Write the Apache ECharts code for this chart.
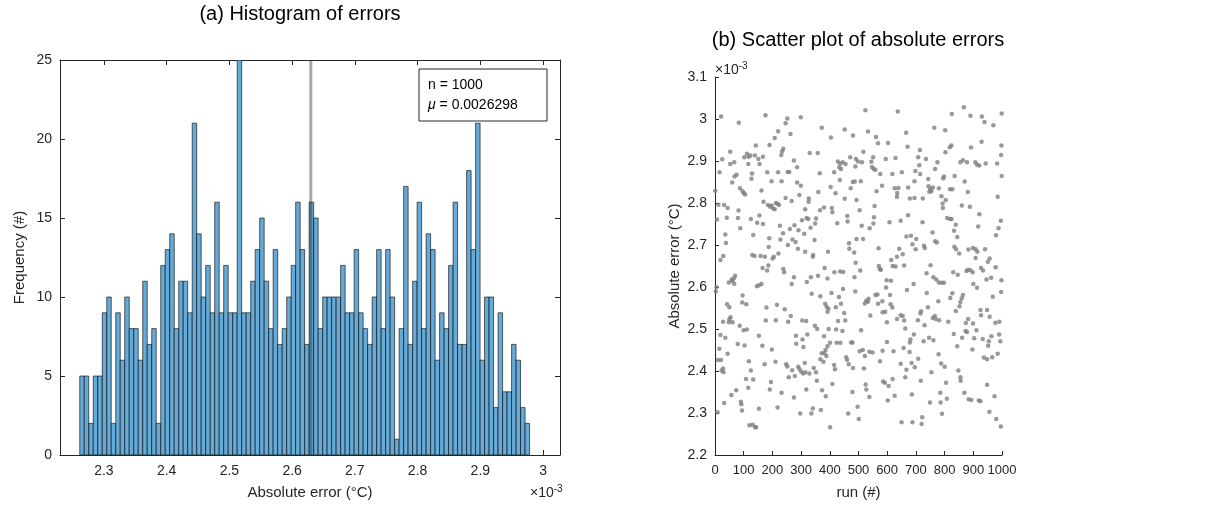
<!DOCTYPE html>
<html><head><meta charset="utf-8">
<script src="https://cdn.jsdelivr.net/npm/echarts@6/dist/echarts.min.js"></script>
<style>html,body{margin:0;padding:0;background:#fff}#c{width:1222px;height:507px}</style>
</head><body><div id="c"></div>
<script>
// ---------- data (errors in units of 1e-3 °C) ----------
const histCounts = [5,5,2,5,5,9,10,2,9,6,10,8,8,6,11,7,8,2,12,13,14,8,11,11,9,
 21,14,10,12,9,16,9,12,9,9,25,9,9,11,13,15,11,8,13,7,8,10,12,16,13,7,
 16,15,8,10,10,10,10,12,9,9,13,9,8,7,10,13,8,13,10,1,8,17,7,11,16,8,14,13,6,
 9,8,12,16,7,7,18,13,21,6,10,10,3,9,4,4,7,6,3,2];
const binLo = 2.2615, binHi = 2.9785;
const histXTicks = [2.3,2.4,2.5,2.6,2.7,2.8,2.9,3.0];
const meanErr = 2.6298;
const sampleCount = 1000;
const errTicks = [2.2,2.3,2.4,2.5,2.6,2.7,2.8,2.9,3.0,3.1];
const runTicks = [0,100,200,300,400,500,600,700,800,900,1000];
const scatterPts = [
[21,3.006],[83,2.991],[53,2.922],[25,2.904],[67,2.897],[53,2.893],[102,2.909],[111,2.917],[117,2.910],[123,2.913],[139,2.913],[116,2.893],[16,2.873],[75,2.867],[68,2.863],[60,2.849],[129,2.870],[127,2.858],[1,2.829],[87,2.835],[96,2.828],[101,2.823],[105,2.820],[12,2.796],[32,2.795],[44,2.788],[82,2.782],[7,2.761],[41,2.765],[80,2.764],[88,2.740],[125,2.762],[36,2.725],[133,2.724],[38,2.705],[29,2.674],[19,2.664],[130,2.676],[138,2.674],[70,2.627],[66,2.621],[58,2.618],[61,2.614],[48,2.611],[67,2.608],[5,2.600],[3,2.589],[96,2.580],[95,2.563],[109,2.559],[42,2.559],[50,2.552],[54,2.528],[50,2.523],[28,2.517],[48,2.516],[61,2.516],[86,2.508],[100,2.497],[111,2.499],[19,2.486],[36,2.479],[79,2.464],[103,2.461],[15,2.453],[44,2.441],[9,2.426],[21,2.426],[28,2.406],[23,2.401],[30,2.397],[118,2.423],[125,2.401],[108,2.381],[133,2.380],[116,2.360],[74,2.354],[57,2.343],[32,2.324],[90,2.327],[92,2.321],[94,2.306],[9,2.302],[120,2.271],[131,2.272],[140,2.266],
[176,3.009],[252,3.001],[246,2.990],[299,3.004],[220,2.971],[208,2.955],[190,2.938],[263,2.964],[238,2.929],[234,2.923],[231,2.914],[142,2.937],[151,2.905],[155,2.893],[167,2.910],[275,2.901],[286,2.885],[182,2.873],[220,2.873],[197,2.852],[232,2.852],[253,2.874],[259,2.874],[286,2.849],[299,2.841],[162,2.830],[294,2.819],[169,2.803],[184,2.795],[192,2.791],[197,2.794],[203,2.787],[208,2.785],[212,2.800],[218,2.798],[223,2.795],[246,2.812],[267,2.805],[155,2.770],[147,2.753],[167,2.750],[226,2.746],[303,2.759],[277,2.747],[261,2.738],[291,2.735],[189,2.716],[237,2.728],[228,2.713],[270,2.713],[281,2.707],[289,2.691],[254,2.700],[187,2.695],[159,2.674],[174,2.672],[201,2.668],[205,2.672],[221,2.680],[186,2.651],[166,2.645],[182,2.639],[238,2.643],[241,2.635],[275,2.623],[267,2.607],[162,2.607],[153,2.604],[146,2.602],[179,2.551],[216,2.558],[243,2.547],[177,2.520],[212,2.521],[264,2.531],[255,2.517],[304,2.520],[153,2.484],[165,2.460],[282,2.484],[283,2.465],[305,2.475],[198,2.451],[173,2.416],[211,2.422],[248,2.416],[252,2.411],[257,2.385],[269,2.402],[278,2.388],[290,2.410],[294,2.405],[300,2.399],[307,2.394],[195,2.374],[191,2.356],[232,2.348],[275,2.337],[153,2.310],[218,2.313],[297,2.299],[143,2.266],
[372,2.979],[404,2.956],[452,2.975],[330,2.919],[358,2.919],[365,2.871],[428,2.899],[436,2.894],[445,2.897],[455,2.893],[433,2.885],[439,2.881],[471,2.909],[415,2.873],[403,2.838],[420,2.823],[435,2.855],[473,2.835],[360,2.826],[327,2.811],[326,2.803],[452,2.810],[380,2.789],[366,2.783],[407,2.788],[409,2.778],[314,2.785],[319,2.764],[325,2.762],[352,2.763],[349,2.751],[333,2.741],[426,2.752],[461,2.769],[462,2.756],[311,2.727],[347,2.712],[467,2.704],[468,2.691],[314,2.684],[342,2.676],[341,2.672],[394,2.684],[382,2.645],[359,2.627],[334,2.623],[320,2.612],[392,2.620],[416,2.635],[436,2.637],[447,2.636],[406,2.586],[337,2.584],[367,2.578],[384,2.560],[389,2.553],[395,2.548],[392,2.541],[421,2.552],[432,2.576],[439,2.560],[446,2.595],[450,2.538],[429,2.519],[454,2.520],[318,2.519],[348,2.508],[356,2.500],[396,2.500],[422,2.499],[444,2.495],[322,2.487],[380,2.483],[401,2.467],[392,2.459],[385,2.450],[381,2.442],[372,2.442],[367,2.428],[378,2.422],[388,2.436],[424,2.467],[437,2.467],[474,2.468],[308,2.457],[457,2.433],[460,2.427],[466,2.416],[415,2.414],[418,2.404],[344,2.407],[352,2.397],[329,2.394],[315,2.397],[313,2.419],[355,2.377],[409,2.369],[318,2.356],[373,2.354],[386,2.340],[341,2.311],[336,2.299],[369,2.307],[464,2.299],[401,2.266],
[524,3.021],[637,3.018],[481,2.961],[533,2.970],[561,2.957],[568,2.942],[603,2.943],[517,2.922],[491,2.905],[498,2.899],[489,2.887],[512,2.897],[551,2.909],[545,2.898],[547,2.886],[553,2.881],[559,2.879],[595,2.905],[629,2.907],[576,2.869],[618,2.869],[480,2.850],[487,2.851],[508,2.852],[582,2.841],[563,2.828],[626,2.835],[639,2.836],[635,2.824],[634,2.815],[493,2.807],[504,2.783],[556,2.793],[554,2.766],[552,2.751],[539,2.740],[511,2.746],[608,2.754],[493,2.714],[516,2.714],[570,2.692],[485,2.682],[490,2.658],[506,2.639],[486,2.623],[489,2.589],[571,2.650],[574,2.643],[578,2.641],[614,2.664],[619,2.650],[629,2.649],[634,2.672],[598,2.616],[613,2.615],[596,2.599],[610,2.581],[527,2.567],[522,2.561],[533,2.565],[535,2.572],[559,2.581],[566,2.582],[568,2.560],[583,2.566],[584,2.540],[593,2.541],[612,2.559],[618,2.551],[541,2.532],[634,2.524],[599,2.516],[509,2.497],[479,2.468],[504,2.447],[515,2.450],[522,2.436],[538,2.446],[549,2.444],[584,2.448],[599,2.469],[622,2.447],[575,2.423],[481,2.407],[519,2.406],[586,2.375],[592,2.372],[605,2.364],[619,2.381],[525,2.368],[527,2.356],[538,2.338],[479,2.350],[626,2.341],[602,2.330],[497,2.315],[501,2.286],
[764,2.979],[802,2.973],[666,2.967],[671,2.934],[714,2.926],[735,2.905],[708,2.909],[712,2.890],[698,2.876],[715,2.869],[775,2.897],[767,2.881],[803,2.921],[651,2.873],[673,2.837],[695,2.852],[743,2.857],[744,2.840],[750,2.833],[754,2.828],[759,2.837],[747,2.827],[780,2.835],[798,2.863],[795,2.859],[679,2.811],[695,2.812],[724,2.811],[789,2.816],[804,2.807],[793,2.799],[794,2.788],[673,2.771],[723,2.754],[647,2.758],[667,2.720],[683,2.722],[701,2.714],[688,2.702],[699,2.690],[728,2.698],[731,2.693],[758,2.730],[767,2.709],[773,2.706],[642,2.691],[654,2.678],[659,2.651],[751,2.652],[737,2.633],[761,2.623],[771,2.618],[780,2.611],[790,2.610],[798,2.610],[692,2.607],[669,2.593],[738,2.586],[778,2.566],[647,2.533],[654,2.531],[659,2.520],[663,2.501],[707,2.521],[716,2.537],[718,2.542],[730,2.509],[742,2.552],[759,2.526],[766,2.531],[769,2.524],[781,2.521],[693,2.487],[681,2.475],[679,2.468],[678,2.445],[727,2.471],[746,2.479],[761,2.473],[657,2.455],[647,2.417],[667,2.403],[685,2.419],[696,2.409],[708,2.429],[779,2.440],[788,2.418],[800,2.410],[663,2.385],[717,2.377],[754,2.397],[805,2.372],[686,2.344],[749,2.325],[785,2.348],[786,2.325],[808,2.334],[791,2.298],[650,2.278],[688,2.278],[722,2.290],[720,2.274],
[867,3.028],[825,3.012],[890,3.008],[930,3.006],[939,2.993],[970,2.985],[999,3.013],[818,2.933],[824,2.937],[892,2.932],[929,2.946],[998,2.937],[997,2.914],[855,2.897],[864,2.902],[878,2.897],[907,2.897],[913,2.891],[921,2.889],[943,2.894],[983,2.894],[835,2.864],[870,2.851],[819,2.833],[827,2.833],[881,2.826],[985,2.815],[999,2.864],[860,2.794],[888,2.791],[809,2.764],[819,2.762],[824,2.762],[839,2.748],[833,2.734],[844,2.719],[921,2.773],[917,2.744],[996,2.758],[988,2.740],[979,2.723],[834,2.696],[840,2.690],[851,2.680],[883,2.689],[899,2.693],[908,2.690],[914,2.684],[941,2.690],[908,2.669],[957,2.668],[951,2.660],[830,2.635],[846,2.629],[876,2.638],[882,2.641],[890,2.640],[898,2.635],[927,2.645],[934,2.639],[946,2.618],[962,2.622],[978,2.647],[998,2.616],[997,2.588],[900,2.607],[913,2.598],[827,2.585],[820,2.574],[864,2.581],[860,2.573],[855,2.564],[852,2.554],[839,2.543],[968,2.577],[925,2.545],[927,2.533],[948,2.545],[957,2.529],[813,2.517],[882,2.524],[874,2.514],[899,2.513],[977,2.515],[991,2.517],[832,2.488],[861,2.479],[873,2.495],[878,2.493],[911,2.497],[963,2.483],[990,2.487],[994,2.471],[903,2.478],[933,2.476],[954,2.471],[952,2.460],[844,2.459],[897,2.451],[937,2.432],[948,2.428],[966,2.433],[985,2.441],[848,2.401],[855,2.385],[856,2.377],[948,2.367],[869,2.348],[884,2.333],[893,2.331],[919,2.330],[925,2.328],[974,2.340],[956,2.303],[980,2.286],[996,2.268]
];

// ---------- chart ----------
const FONT = "'Liberation Sans', Arial, Helvetica, sans-serif";
const AX = '#262626';
const nb = histCounts.length, bw = (binHi - binLo) / nb;
const histData = histCounts.map((c, i) => [binLo + i * bw, binLo + (i + 1) * bw, c]);
const fmt1 = v => String(+(+v).toFixed(1));
const fmtInt = v => String(Math.round(+v));
const lineStyle = {color: AX, width: 1};
const nameStyle = {color: AX, fontSize: 15, fontFamily: FONT};
const labelStyle = {color: AX, fontSize: 14, fontFamily: FONT, showMinLabel: true, showMaxLabel: true, hideOverlap: false};

const chart = echarts.init(document.getElementById('c'), null, {renderer: 'canvas'});
chart.setOption({
  animation: false,
  backgroundColor: '#fff',
  grid: [
    {left: 60, top: 60, width: 500, height: 395},
    {left: 715, top: 77, width: 287, height: 378}
  ],
  xAxis: [
    {gridIndex: 0, type: 'value', min: 2.23, max: 3.027, position: 'bottom',
     axisLine: {onZero: false, lineStyle}, splitLine: {show: false},
     axisTick: {inside: true, length: 5, lineStyle, customValues: histXTicks},
     axisLabel: Object.assign({customValues: histXTicks, formatter: fmt1, margin: 9}, labelStyle),
     name: 'Absolute error (°C)', nameLocation: 'middle', nameGap: 30, nameTextStyle: nameStyle},
    {gridIndex: 0, type: 'value', min: 2.23, max: 3.027, position: 'top',
     axisLine: {onZero: false, lineStyle}, splitLine: {show: false},
     axisTick: {inside: true, length: 5, lineStyle, customValues: histXTicks},
     axisLabel: {show: false}},
    {gridIndex: 1, type: 'value', min: 0, max: 1000, position: 'bottom',
     axisLine: {onZero: false, lineStyle}, splitLine: {show: false},
     axisTick: {inside: true, length: 4, lineStyle, customValues: runTicks},
     axisLabel: Object.assign({}, labelStyle, {customValues: runTicks, formatter: fmtInt, margin: 9, fontSize: 13}),
     name: 'run (#)', nameLocation: 'middle', nameGap: 30, nameTextStyle: nameStyle}
  ],
  yAxis: [
    {gridIndex: 0, type: 'value', min: 0, max: 25, interval: 5, position: 'left',
     axisLine: {onZero: false, lineStyle}, splitLine: {show: false},
     axisTick: {inside: true, length: 5, lineStyle},
     axisLabel: Object.assign({margin: 8}, labelStyle),
     name: 'Frequency (#)', nameLocation: 'middle', nameGap: 33, nameTextStyle: nameStyle},
    {gridIndex: 0, type: 'value', min: 0, max: 25, interval: 5, position: 'right',
     axisLine: {onZero: false, lineStyle}, splitLine: {show: false},
     axisTick: {inside: true, length: 5, lineStyle}, axisLabel: {show: false}},
    {gridIndex: 1, type: 'value', min: 2.2, max: 3.1, position: 'left',
     axisLine: {onZero: false, lineStyle}, splitLine: {show: false},
     axisTick: {inside: true, length: 4, lineStyle, customValues: errTicks},
     axisLabel: Object.assign({customValues: errTicks, formatter: fmt1, margin: 8}, labelStyle),
     name: 'Absolute error (°C)', nameLocation: 'middle', nameGap: 33, nameTextStyle: nameStyle}
  ],
  series: [
    {type: 'custom', xAxisIndex: 0, yAxisIndex: 0, data: histData, clip: true,
     encode: {x: [0, 1], y: 2},
     renderItem: (params, api) => {
       const p0 = api.coord([api.value(0), api.value(2)]);
       const p1 = api.coord([api.value(1), 0]);
       return {type: 'rect', shape: {x: p0[0], y: p0[1], width: p1[0] - p0[0], height: p1[1] - p0[1]},
               style: {fill: '#66AAD7', stroke: '#000', lineWidth: 0.6}};
     }},
    {type: 'line', xAxisIndex: 0, yAxisIndex: 0, data: [[meanErr, 0], [meanErr, 25]],
     symbol: 'none', z: 5, lineStyle: {color: 'rgba(38,38,38,0.4)', width: 3}},
    {type: 'scatter', xAxisIndex: 2, yAxisIndex: 2, data: scatterPts,
     symbolSize: 4.5, itemStyle: {color: '#7f7f7f'}}
  ],
  graphic: [
    {type: 'text', x: 300, y: 14, style: {text: '(a) Histogram of errors', fill: '#000', fontSize: 20, fontFamily: FONT, align: 'center', verticalAlign: 'middle'}},
    {type: 'text', x: 858, y: 40, style: {text: '(b) Scatter plot of absolute errors', fill: '#000', fontSize: 20, fontFamily: FONT, align: 'center', verticalAlign: 'middle'}},
    {type: 'rect', x: 419, y: 69, shape: {width: 128, height: 52}, style: {fill: '#fff', stroke: AX, lineWidth: 1}, z: 10},
    {type: 'text', x: 428, y: 85, z: 11, style: {text: 'n = ' + sampleCount, fill: '#000', fontSize: 14, fontFamily: FONT, verticalAlign: 'middle'}},
    {type: 'text', x: 428, y: 105, z: 11, style: {text: '{i|μ} = ' + (meanErr / 1000).toFixed(7), fill: '#000', fontSize: 14, fontFamily: FONT, verticalAlign: 'middle',
      rich: {i: {fontStyle: 'italic', fontSize: 14, fontFamily: FONT, fill: '#000'}}}},
    {type: 'text', x: 530, y: 493, style: {text: '×10{s|-3}', fill: AX, fontSize: 14, fontFamily: FONT, verticalAlign: 'middle',
      rich: {s: {fontSize: 10, fontFamily: FONT, fill: AX, verticalAlign: 'bottom', padding: [0, 0, 8, 0]}}}},
    {type: 'text', x: 715, y: 70, style: {text: '×10{s|-3}', fill: AX, fontSize: 14, fontFamily: FONT, verticalAlign: 'middle',
      rich: {s: {fontSize: 10, fontFamily: FONT, fill: AX, verticalAlign: 'bottom', padding: [0, 0, 8, 0]}}}}
  ]
});
</script></body></html>
